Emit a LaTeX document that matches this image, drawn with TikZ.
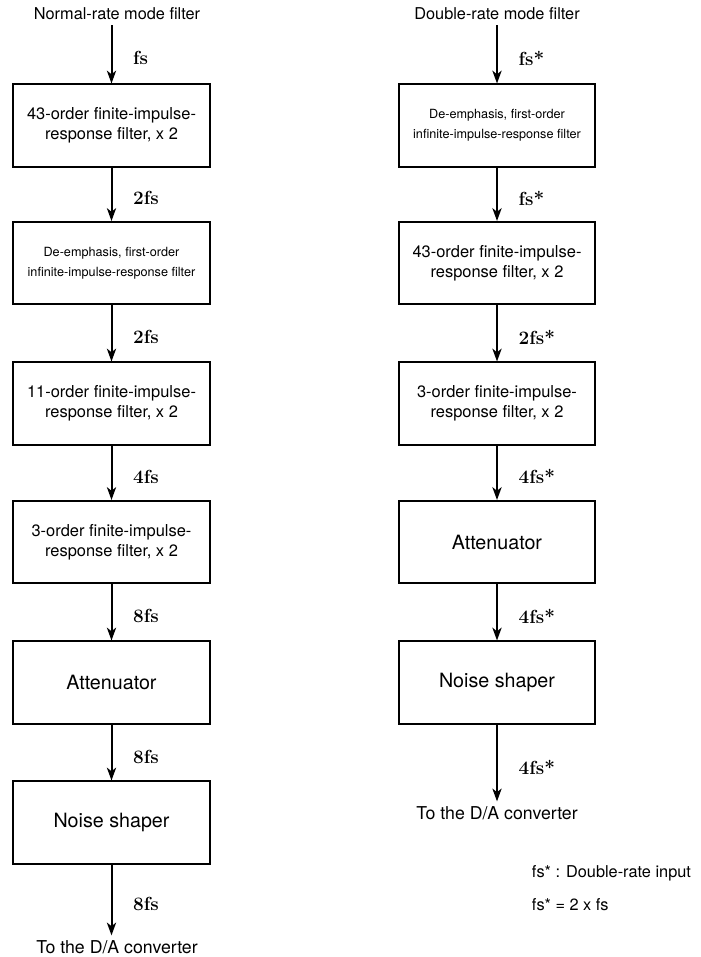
\documentclass[tikz,border=0pt]{standalone}
\usepackage{fontspec}
\newfontfamily\heros{TeX Gyre Heros}
\usetikzlibrary{arrows.meta}

\tikzset{
	blk/.style={draw, line width=0.5mm, minimum width=4.92cm, minimum height=2.05cm, align=center, font=\heros\fontsize{11.7}{14.2}\selectfont},
	blksmall/.style={blk, font=\heros\fontsize{9}{14.2}\selectfont},
	blkbig/.style={blk, font=\heros\fontsize{14}{17}\selectfont},
	heading/.style={font=\heros\fontsize{11.6}{14}\selectfont},
	outlabel/.style={font=\heros\fontsize{12.6}{15}\selectfont},
	rate/.style={midway, right, xshift=4mm, yshift=-1mm, font=\bfseries\fontsize{13.5}{16}\selectfont},
	flow/.style={line width=0.5mm, -{Stealth[length=3.2mm, width=2.3mm, inset=0.9mm]}},
}

\begin{document}
\begin{tikzpicture}[x=0.025cm, y=-0.025cm]
		%%%%% START %%%%%
		\useasboundingbox (0, 0) rectangle (701, 957);
		
		% normal-rate column
		\node[heading] (nTitle) at (117, 14) {Normal-rate mode filter};
		\node[blk] (nFir43) at (111.5, 125.5) {43-order finite-impulse-\\response filter, x 2};
		\node[blksmall] (nDeemph) at (111.5, 263) {De-emphasis, first-order\\infinite-impulse-response filter};
		\node[blk] (nFir11) at (111.5, 403.5) {11-order finite-impulse-\\response filter, x 2};
		\node[blk] (nFir3) at (111.5, 542) {3-order finite-impulse-\\response filter, x 2};
		\node[blkbig] (nAtt) at (111.5, 682.5) {Attenuator};
		\node[blkbig] (nNoise) at (111.5, 822.5) {Noise shaper};
		\node[outlabel] (nOut) at (117, 947) {To the D/A converter};
		
		\draw[flow] (nTitle.south -| nFir43) -- (nFir43) node[rate] {fs};
		\draw[flow] (nFir43) -- (nDeemph) node[rate] {2fs};
		\draw[flow] (nDeemph) -- (nFir11) node[rate] {2fs};
		\draw[flow] (nFir11) -- (nFir3) node[rate] {4fs};
		\draw[flow] (nFir3) -- (nAtt) node[rate] {8fs};
		\draw[flow] (nAtt) -- (nNoise) node[rate] {8fs};
		\draw[flow] (nNoise) -- (nNoise.south |- nOut.north) node[rate] {8fs};
		
		% double-rate column
		\node[heading] (dTitle) at (497, 14) {Double-rate mode filter};
		\node[blksmall] (dDeemph) at (497, 125.5) {De-emphasis, first-order\\infinite-impulse-response filter};
		\node[blk] (dFir43) at (497, 263) {43-order finite-impulse-\\response filter, x 2};
		\node[blk] (dFir3) at (497, 403.5) {3-order finite-impulse-\\response filter, x 2};
		\node[blkbig] (dAtt) at (497, 542) {Attenuator};
		\node[blkbig] (dNoise) at (497, 682.5) {Noise shaper};
		\node[outlabel] (dOut) at (497, 813) {To the D/A converter};
		
		\draw[flow] (dTitle) -- (dDeemph) node[rate] {fs*};
		\draw[flow] (dDeemph) -- (dFir43) node[rate] {fs*};
		\draw[flow] (dFir43) -- (dFir3) node[rate] {2fs*};
		\draw[flow] (dFir3) -- (dAtt) node[rate] {4fs*};
		\draw[flow] (dAtt) -- (dNoise) node[rate] {4fs*};
		\draw[flow] (dNoise) -- (dOut) node[rate] {4fs*};
		
		% legend
		\node[heading, anchor=west] (key1) at (527, 873) {fs* : Double-rate input};
		\node[heading, anchor=west] (key2) at (527, 905) {fs* = 2 x fs};
		
		%%%%% END %%%%%
\end{tikzpicture}
\end{document}
